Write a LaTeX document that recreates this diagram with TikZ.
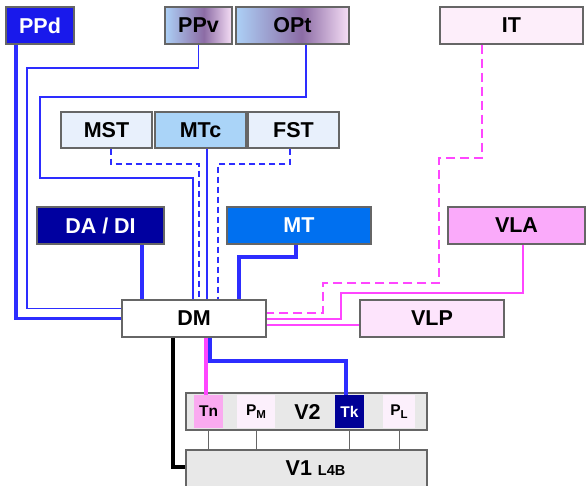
\documentclass[tikz,border=0pt]{standalone}
\usepackage{fontspec}
\setmainfont{Liberation Sans}
\definecolor{gA}{RGB}{172,208,246}
\definecolor{gB}{RGB}{140,108,165}
\definecolor{gC}{RGB}{246,222,246}
\pgfdeclarehorizontalshading{pvgrad}{100bp}{color(0bp)=(gA); color(25bp)=(gA); color(54bp)=(gB); color(75bp)=(gC); color(100bp)=(gC)}
\begin{document}
\begin{tikzpicture}[x=1pt,y=-1pt,
  box/.style={draw=black!60,line width=1.1pt,inner sep=0pt,font=\fontsize{21.5}{23}\selectfont\bfseries},
  sub/.style={inner sep=0pt,font=\fontsize{15.5}{16}\selectfont\bfseries},
  bthin/.style={draw=bl,line width=1.3pt},
  bthick/.style={draw=bl,line width=3.2pt},
  bdash/.style={draw=bl,line width=1.3pt,dash pattern=on 6pt off 4pt},
  mthin/.style={draw=mg,line width=1.3pt},
  mthick/.style={draw=mg,line width=3.2pt},
  mdash/.style={draw=mg,line width=1.3pt,dash pattern=on 9pt off 5pt},
  gthin/.style={draw=black!60,line width=1pt},
  kthick/.style={draw=black,line width=3.2pt}]
\definecolor{bl}{RGB}{45,45,255}
\definecolor{mg}{RGB}{255,70,255}
\definecolor{ppd}{RGB}{25,25,235}
\definecolor{it}{RGB}{253,238,250}
\definecolor{mst}{RGB}{232,240,252}
\definecolor{mtc}{RGB}{170,212,248}
\definecolor{dadi}{RGB}{0,0,160}
\definecolor{mt}{RGB}{0,112,240}
\definecolor{vla}{RGB}{250,170,250}
\definecolor{vlp}{RGB}{253,228,252}
\definecolor{gry}{RGB}{232,232,232}
\definecolor{tn}{RGB}{250,170,240}
\definecolor{pp}{RGB}{252,240,252}
\definecolor{tk}{RGB}{0,0,150}
\useasboundingbox (0,0) rectangle (586,486);
\clip (0,0) rectangle (586,486);
% top row
\node[box,fill=ppd,text=white,minimum width=68pt,minimum height=37pt] (PPd) at (40,25.5) {PPd};
\node[box,shading=pvgrad,minimum width=67pt,minimum height=37pt] (PPv) at (198.5,25.5) {PPv};
\node[box,shading=pvgrad,minimum width=113pt,minimum height=37pt] (OPt) at (292.5,25.5) {OPt};
\node[box,fill=it,minimum width=143pt,minimum height=37pt] (IT) at (511.5,25.5) {IT};
% second row
\node[box,fill=mst,minimum width=91pt,minimum height=36pt] (MST) at (106.5,130) {MST};
\node[box,fill=mtc,minimum width=91pt,minimum height=36pt] (MTc) at (200.5,130) {MTc};
\node[box,fill=mst,minimum width=91pt,minimum height=36pt] (FST) at (293.5,130) {FST};
% third row
\node[box,fill=dadi,text=white,minimum width=127pt,minimum height=37pt] (DA) at (100.5,225.5) {DA / DI};
\node[box,fill=mt,text=white,minimum width=144pt,minimum height=37pt] (MT) at (299,225.5) {MT};
\node[box,fill=vla,minimum width=137pt,minimum height=37pt] (VLA) at (516.5,225.5) {VLA};
% DM row
\node[box,fill=white,minimum width=144pt,minimum height=37pt] (DM) at (194,318.5) {DM};
\node[box,fill=vlp,minimum width=144pt,minimum height=37pt] (VLP) at (432,318.5) {VLP};
% V2
\node[box,fill=gry,minimum width=241pt,minimum height=37pt] (V2) at (306.5,411.5) {\hspace*{2pt}V2};
\node[sub,fill=tn,minimum width=29pt,minimum height=33pt] (Tn) at (208.5,411.5) {Tn};
\node[sub,fill=pp,minimum width=38pt,minimum height=33pt] (PM) at (256,411.5) {P\raisebox{-3pt}{\fontsize{11.5}{12}\selectfont M}};
\node[sub,fill=tk,text=white,minimum width=29pt,minimum height=33pt] (Tk) at (349.5,411.5) {Tk};
\node[sub,fill=pp,minimum width=32pt,minimum height=33pt] (PL) at (399,411.5) {P\raisebox{-3pt}{\fontsize{11.5}{12}\selectfont L}};
% V1
\node[box,fill=gry,minimum width=241pt,minimum height=40pt,text depth=0pt] (V1) at (306.5,470) {\hspace*{18pt}\raisebox{3pt}{V1 \fontsize{14.5}{15}\selectfont L4B}};
% connectors to DM left
\draw[bthick] ([xshift=-24pt]PPd.south) |- (DM.west);
\draw[bthin] (PPv.south) |- (27,68) |- ([yshift=10pt]DM.west);
% to DM top
\draw[bthin] ([xshift=13.5pt]OPt.south) |- (40,97) |- (193,178) -- ([xshift=-1pt]DM.north);
\draw[bdash] ([xshift=4.5pt]MST.south) |- (199,164) -- ([xshift=5pt]DM.north);
\draw[bthin] ([xshift=6.5pt]MTc.south) -- ([xshift=13pt]DM.north);
\draw[bdash] ([xshift=-3.5pt]FST.south) |- (218,164) -- ([xshift=24pt]DM.north);
\draw[bthick] ([xshift=41.5pt]DA.south) -- ([xshift=-52pt]DM.north);
\draw[bthick] ([xshift=-3pt]MT.south) |- (239,257) -- ([xshift=45pt]DM.north);
% to DM right
\draw[mdash] ([xshift=-29.5pt]IT.south) |- (439,158) |- (323,283) |- ([yshift=5.5pt]DM.east);
\draw[mthin] ([xshift=6.5pt]VLA.south) |- (341,293) |- ([yshift=-0.5pt]DM.east);
\draw[mthin] ([yshift=-6.5pt]DM.east) -- ([yshift=-6.5pt]VLP.west);
% DM bottom
\draw[kthick] ([xshift=-21pt]DM.south) |- ([yshift=3pt]V1.west);
\draw[mthick] ([xshift=12pt]DM.south) -- ([xshift=-2.5pt]Tn.north);
\draw[bthick] ([xshift=16pt]DM.south) |- (346,361) -- ([xshift=-3.5pt]Tk.north);
% V2 - V1
\foreach \n in {Tn,PM,Tk,PL}{
  \draw[gthin] (\n |- V2.south) -- (\n |- V1.north);
}
\end{tikzpicture}
\end{document}
